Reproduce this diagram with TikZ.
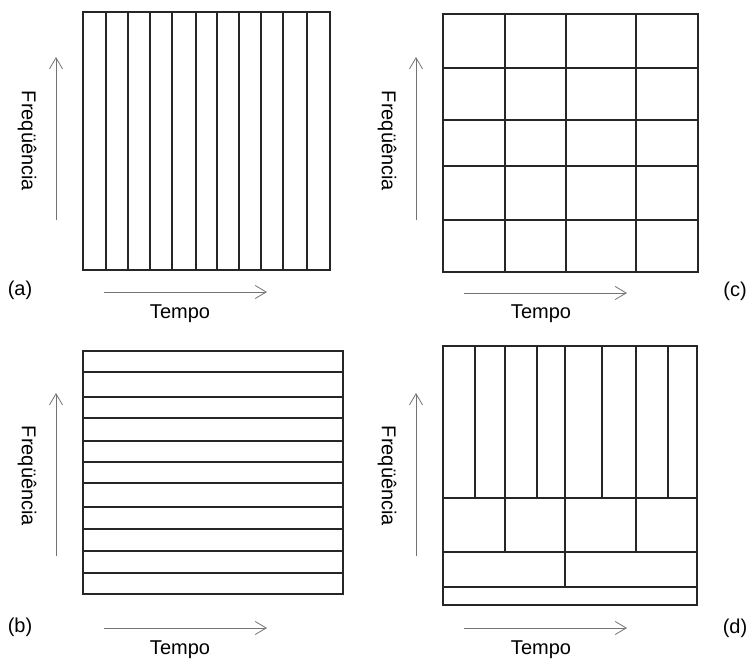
\documentclass[tikz,border=0pt]{standalone}
\usepackage{fontspec}
\setmainfont{Liberation Sans}
\usetikzlibrary{arrows.meta}
\begin{document}
\begin{tikzpicture}[x=1pt,y=-1pt,
  grid/.style={line width=1.6pt, black!85, line cap=rect},
  axis/.style={line width=0.8pt, black!55, -{Straight Barb[length=11pt,width=13pt,line width=0.8pt]}},
  lbl/.style={font=\fontsize{20}{24}\selectfont, inner sep=0pt},
  vlbl/.style={lbl, rotate=-90}]
\useasboundingbox (0,0) rectangle (749,661);
% ---------- (a) ----------
\draw[grid] (83,12) rectangle (330,270);
\foreach \x in {106,128,150,172,196,217,239,261,283,307}
  \draw[grid] (\x,12) -- (\x,270);
\coordinate (a1) at (56,220); \coordinate (a2) at (56,57);
\draw[axis] (a1) -- (a2);
\node[vlbl] (fa) at (27,141) {Freqüência};
\coordinate (a3) at (104,292); \coordinate (a4) at (267,292);
\draw[axis] (a3) -- (a4);
\node[lbl] (ta) at (180,314) {Tempo};
\node[lbl] (la) at (20,290) {(a)};
% ---------- (c) ----------
\draw[grid] (443,14) rectangle (698,272);
\foreach \x in {505,566,636}
  \draw[grid] (\x,14) -- (\x,272);
\foreach \y in {68,120,166,220}
  \draw[grid] (443,\y) -- (698,\y);
\coordinate (c1) at (416,220); \coordinate (c2) at (416,57);
\draw[axis] (c1) -- (c2);
\node[vlbl] (fc) at (387,141) {Freqüência};
\coordinate (c3) at (464,293); \coordinate (c4) at (627,293);
\draw[axis] (c3) -- (c4);
\node[lbl] (tc) at (541,314) {Tempo};
\node[lbl] (lc) at (735,291) {(c)};
% ---------- (b) ----------
\draw[grid] (83,351) rectangle (343,594);
\foreach \y in {372,397,418,441,462,483,507,529,551,573}
  \draw[grid] (83,\y) -- (343,\y);
\coordinate (b1) at (56,556); \coordinate (b2) at (56,393);
\draw[axis] (b1) -- (b2);
\node[vlbl] (fb) at (27,476) {Freqüência};
\coordinate (b3) at (104,628); \coordinate (b4) at (267,628);
\draw[axis] (b3) -- (b4);
\node[lbl] (tb) at (180,650) {Tempo};
\node[lbl] (lb) at (20,627) {(b)};
% ---------- (d) ----------
\draw[grid] (443,346) rectangle (697,605);
\draw[grid] (443,498) -- (697,498);
\draw[grid] (443,552) -- (697,552);
\draw[grid] (443,587) -- (697,587);
\foreach \x in {475,505,537,565,602,636,668}
  \draw[grid] (\x,346) -- (\x,498);
\foreach \x in {505,565,636}
  \draw[grid] (\x,498) -- (\x,552);
\draw[grid] (565,552) -- (565,587);
\coordinate (d1) at (416,556); \coordinate (d2) at (416,393);
\draw[axis] (d1) -- (d2);
\node[vlbl] (fd) at (387,476) {Freqüência};
\coordinate (d3) at (464,628); \coordinate (d4) at (627,628);
\draw[axis] (d3) -- (d4);
\node[lbl] (td) at (541,650) {Tempo};
\node[lbl] (ld) at (735,628) {(d)};
\end{tikzpicture}
\end{document}
